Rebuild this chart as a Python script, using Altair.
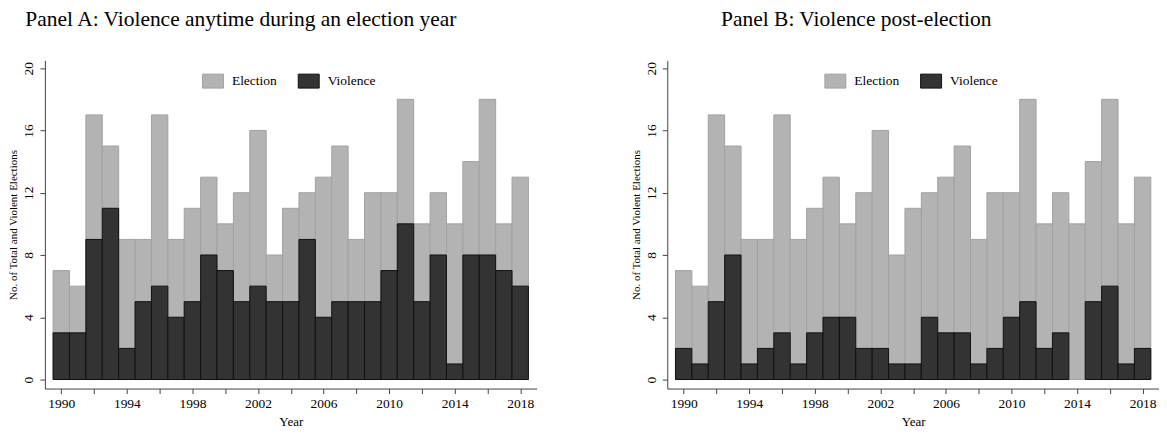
import altair as alt
import pandas as pd

years = list(range(1990, 2019))
elections = [7, 6, 17, 15, 9, 9, 17, 9, 11, 13, 10, 12, 16, 8, 11, 12, 13, 15, 9, 12,
             12, 18, 10, 12, 10, 14, 18, 10, 13]
violence_any = [3, 3, 9, 11, 2, 5, 6, 4, 5, 8, 7, 5, 6, 5, 5, 9, 4, 5, 5, 5,
                7, 10, 5, 8, 1, 8, 8, 7, 6]
violence_post = [2, 1, 5, 8, 1, 2, 3, 1, 3, 4, 4, 2, 2, 1, 1, 4, 3, 3, 1, 2,
                 4, 5, 2, 3, 0, 5, 6, 1, 2]
panel_titles = ["Panel A: Violence anytime during an election year",
                "Panel B: Violence post-election"]
series_names = ["Election", "Violence"]
fills = ["#b3b3b3", "#333333"]
strokes = ["#a2a2a2", "#111111"]
x_ticks = list(range(1990, 2019, 2))
y_ticks = [0, 4, 8, 12, 16, 20]

FONT = "Liberation Serif"


def panel(violence, title, dx):
    rows = []
    for yr, e in zip(years, elections):
        rows.append({"year": yr, "series": "Election", "count": e})
    for yr, v in zip(years, violence):
        if v > 0:
            rows.append({"year": yr, "series": "Violence", "count": v})
    df = pd.DataFrame(rows)
    return (
        alt.Chart(df)
        .transform_calculate(x0="datum.year - 0.5", x1="datum.year + 0.5", base="0")
        .mark_rect(strokeWidth=1)
        .encode(
            x=alt.X("x0:Q", title="Year",
                    scale=alt.Scale(domain=[1989, 2019], nice=False, zero=False),
                    axis=alt.Axis(values=x_ticks,
                                  labelExpr="datum.value % 4 == 2 ? datum.value : ''",
                                  grid=False, tickSize=5, labelPadding=3,
                                  labelFontSize=13.5, titleFontSize=13, titlePadding=6,
                                  labelFont=FONT, titleFont=FONT, titleFontWeight="normal",
                                  labelColor="black", titleColor="black",
                                  domainColor="#444", tickColor="#444")),
            x2="x1:Q",
            y=alt.Y("count:Q", title="No. of Total and Violent Elections",
                    scale=alt.Scale(domain=[-0.58, 20.5], nice=False, zero=False),
                    axis=alt.Axis(values=y_ticks, grid=False, tickSize=5, labelPadding=4,
                                  labelAngle=270, labelAlign="center", labelBaseline="bottom",
                                  labelFontSize=13.5, titleFontSize=11, titlePadding=3,
                                  labelFont=FONT, titleFont=FONT, titleFontWeight="normal",
                                  labelColor="black", titleColor="black",
                                  domainColor="#444", tickColor="#444")),
            y2="base:Q",
            color=alt.Color("series:N", title=None,
                            scale=alt.Scale(domain=series_names, range=fills),
                            legend=alt.Legend(orient="none", legendX=161, legendY=13,
                                              direction="horizontal",
                                              symbolType="M-1.5,-1H1.5V1H-1.5Z",
                                              symbolSize=196, symbolStrokeWidth=1,
                                              labelOffset=11.5, columnPadding=19,
                                              labelFont=FONT, labelFontSize=13.5,
                                              labelColor="black")),
            stroke=alt.Stroke("series:N", title=None,
                              scale=alt.Scale(domain=series_names, range=strokes)),
        )
        .properties(
            width=493, height=329,
            title=alt.TitleParams(title, anchor="middle", frame="group", dx=dx,
                                  fontSize=21.5, font=FONT, fontWeight="normal",
                                  color="black", baseline="alphabetic", offset=13),
        )
    )


chart = (
    alt.hconcat(panel(violence_any, panel_titles[0], -50),
                panel(violence_post, panel_titles[1], -57), spacing=94)
    .resolve_scale(color="independent", stroke="independent")
    .configure(font=FONT)
    .configure_title(font=FONT, fontWeight="normal", fontSize=21.5)
    .configure_view(stroke=None)
    .properties(padding={"left": 0, "top": 0, "right": 0, "bottom": 0})
)

chart.save("out.html", embed_options={"renderer": "svg", "actions": False})
